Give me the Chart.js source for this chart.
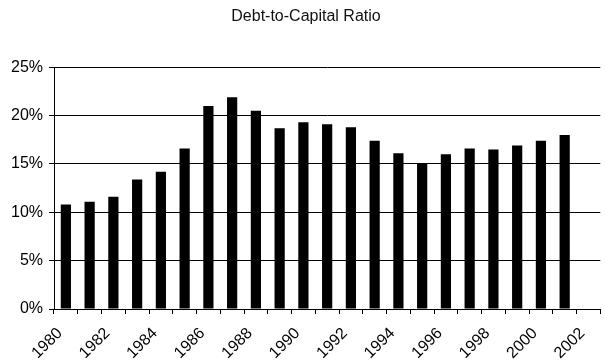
<!DOCTYPE html>
<html>
<head>
<meta charset="utf-8">
<script src="https://cdn.jsdelivr.net/npm/chart.js@4"></script>
<style>
    body { margin: 0; overflow: hidden; background: #fff; }
</style>
</head>
<body>
<canvas id="graphique" width="612" height="362"></canvas>
<script>
// années et ratio dette / capital (en %)
const annees = ["1980", "1981", "1982", "1983", "1984", "1985", "1986", "1987", "1988", "1989", "1990", "1991",
    "1992", "1993", "1994", "1995", "1996", "1997", "1998", "1999", "2000", "2001", "2002"];
const ratios = [10.8, 11.1, 11.6, 13.4, 14.2, 16.6, 21.0, 21.9, 20.5, 18.7, 19.3, 19.1,
    18.8, 17.4, 16.1, 15.1, 16.0, 16.6, 16.5, 16.9, 17.4, 18.0, null];
const titre = "Debt-to-Capital Ratio";

Chart.defaults.font.family = "'Liberation Sans', Arial, sans-serif";
Chart.defaults.color = "#000";

const data = {
    labels: annees,
    datasets: [
        {
            label: titre,
            data: ratios,
            backgroundColor: "#000",
            barPercentage: 0.43,
            categoryPercentage: 1,
        },
    ],
};

const config = {
    type: "bar",
    data: data,
    options: {
        responsive: false,
        animation: false,
        layout: { padding: 0 },
        plugins: {
            legend: { display: false },
            tooltip: { enabled: false },
            title: {
                display: true,
                text: titre,
                color: "#111",
                font: { size: 16, weight: "normal" },
                padding: { top: 7, bottom: 41 },
            },
        },
        scales: {
            x: {
                grid: { drawOnChartArea: false, drawTicks: true, tickLength: 5, color: "#000" },
                border: { color: "#000" },
                afterFit: function (axe) { axe.height = 53; },
                ticks: {
                    autoSkip: false,
                    maxRotation: 45,
                    minRotation: 45,
                    font: { size: 16 },
                    padding: 10,
                    labelOffset: -6,
                    // une année sur deux
                    callback: function (valeur, index) {
                        return index % 2 === 0 ? annees[index] : "";
                    },
                },
            },
            y: {
                min: 0,
                max: 25,
                grid: { color: "#000", tickLength: 5 },
                border: { color: "#000" },
                afterFit: function (axe) { axe.width = 54; },
                ticks: {
                    stepSize: 5,
                    font: { size: 16 },
                    padding: 6,
                    callback: v => v + "%",
                },
            },
        },
    },
};

new Chart(document.querySelector("#graphique"), config);
</script>
</body>
</html>
